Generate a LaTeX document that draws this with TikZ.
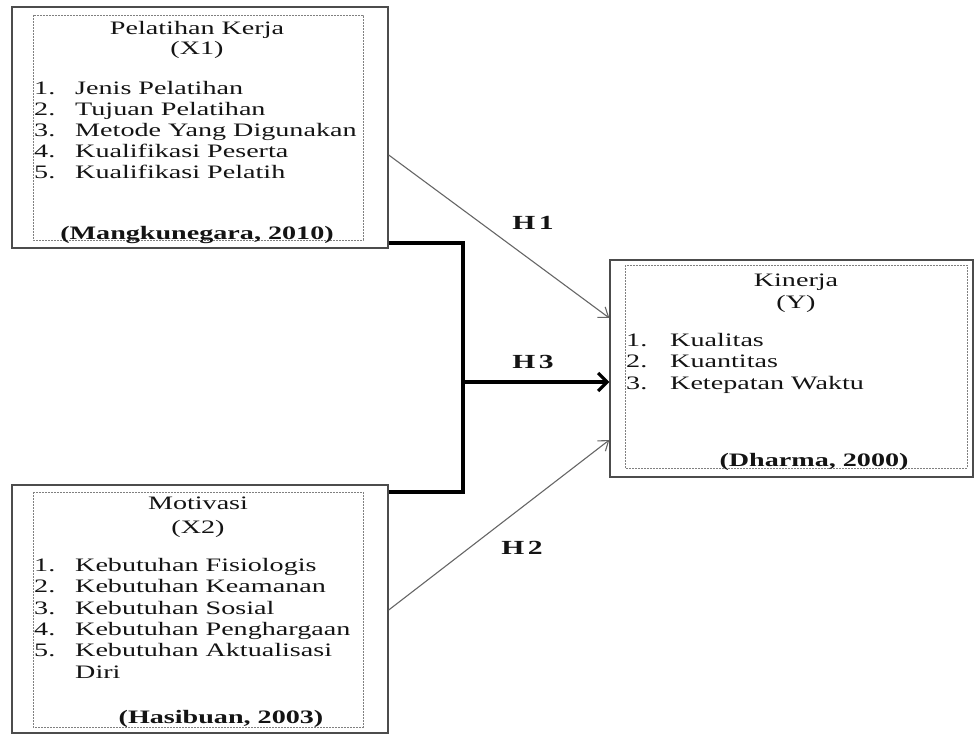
\documentclass[tikz,border=0pt]{standalone}
\usepackage{fontspec}
\setmainfont{Liberation Serif}[FakeStretch=1.48]
\usetikzlibrary{arrows.meta}
\begin{document}
\begin{tikzpicture}[x=1pt,y=-1pt,
  outerbox/.style={draw=black!70, line width=1.4pt, fill=white, inner sep=0pt},
  innerbox/.style={draw=black!50, dash pattern=on 2pt off 1pt, line width=0.7pt},
  txt/.style={font=\fontsize{19}{21}\selectfont, text=black!92, inner sep=0pt},
  btxt/.style={txt, font=\fontsize{19}{21}\selectfont\bfseries},
  thinarrow/.style={draw=black!60, line width=1.1pt, -{Straight Barb[length=9pt,width=13pt]}},
  thickline/.style={draw=black, line width=4pt, line join=miter},
  thickarrow/.style={draw=black, line width=3.2pt, -{Straight Barb[length=9pt,width=18pt]}}
]
\useasboundingbox (0,0) rectangle (979,735);

% boxes
\node[outerbox, minimum width=376pt, minimum height=241pt] (x1) at (200,127.5) {};
\node[outerbox, minimum width=376pt, minimum height=248pt] (x2) at (200,609) {};
\node[outerbox, minimum width=363pt, minimum height=217pt] (y) at (791.5,368.5) {};
\draw[innerbox] (33,15) rectangle (363,240);
\draw[innerbox] (33,492) rectangle (363,727);
\draw[innerbox] (625,265) rectangle (967,468);

% X1 text
\node[txt, anchor=base] (x1a) at (197,34.5) {Pelatihan Kerja};
\node[txt, anchor=base] (x1b) at (197,54.5) {(X1)};
\foreach \t [count=\i] in {Jenis Pelatihan, Tujuan Pelatihan, Metode Yang Digunakan, Kualifikasi Peserta, Kualifikasi Pelatih}{
  \node[txt, anchor=base west] (x1n\i) at (34,{94.5+21*(\i-1)}) {\i.};
  \node[txt, anchor=base west] (x1i\i) at (75,{94.5+21*(\i-1)}) {\t};
}
\node[btxt, anchor=base] (x1r) at (197,240) {(Mangkunegara, 2010)};

% X2 text
\node[txt, anchor=base] (x2a) at (198,509.5) {Motivasi};
\node[txt, anchor=base] (x2b) at (198,533.5) {(X2)};
\foreach \t [count=\i] in {Kebutuhan Fisiologis, Kebutuhan Keamanan, Kebutuhan Sosial, Kebutuhan Penghargaan, Kebutuhan Aktualisasi}{
  \node[txt, anchor=base west] (x2n\i) at (34,{571.5+21.3*(\i-1)}) {\i.};
  \node[txt, anchor=base west] (x2i\i) at (75,{571.5+21.3*(\i-1)}) {\t};
}
\node[txt, anchor=base west] (x2i6) at (75,678) {Diri};
\node[btxt, anchor=base] (x2r) at (221,723.5) {(Hasibuan, 2003)};

% Y text
\node[txt, anchor=base] (ya) at (796,286.5) {Kinerja};
\node[txt, anchor=base] (yb) at (796,308.5) {(Y)};
\foreach \t [count=\i] in {Kualitas, Kuantitas, Ketepatan Waktu}{
  \node[txt, anchor=base west] (yn\i) at (626,{346.5+21.3*(\i-1)}) {\i.};
  \node[txt, anchor=base west] (yi\i) at (670,{346.5+21.3*(\i-1)}) {\t};
}
\node[btxt, anchor=base] (yr) at (814,466.5) {(Dharma, 2000)};

% connectors
\coordinate (bus) at (463,382);
\draw[thickline] ([yshift=-115.5pt]x1.east) -| (bus) |- ([yshift=117pt]x2.east);
\draw[thickarrow] (bus) -- ([yshift=-13.5pt]y.west);
\draw[thinarrow] ([yshift=-27.5pt]x1.east) -- ([yshift=50.5pt]y.west);
\draw[thinarrow] ([yshift=-1pt]x2.east) -- ([yshift=-71.5pt]y.west);

% labels
\node[btxt, font=\fontsize{20}{22}\selectfont\bfseries] (h1) at (533,223) {H\,1};
\node[btxt, font=\fontsize{20}{22}\selectfont\bfseries] (h3) at (533,362) {H\,3};
\node[btxt, font=\fontsize{20}{22}\selectfont\bfseries] (h2) at (522,548) {H\,2};
\end{tikzpicture}
\end{document}
